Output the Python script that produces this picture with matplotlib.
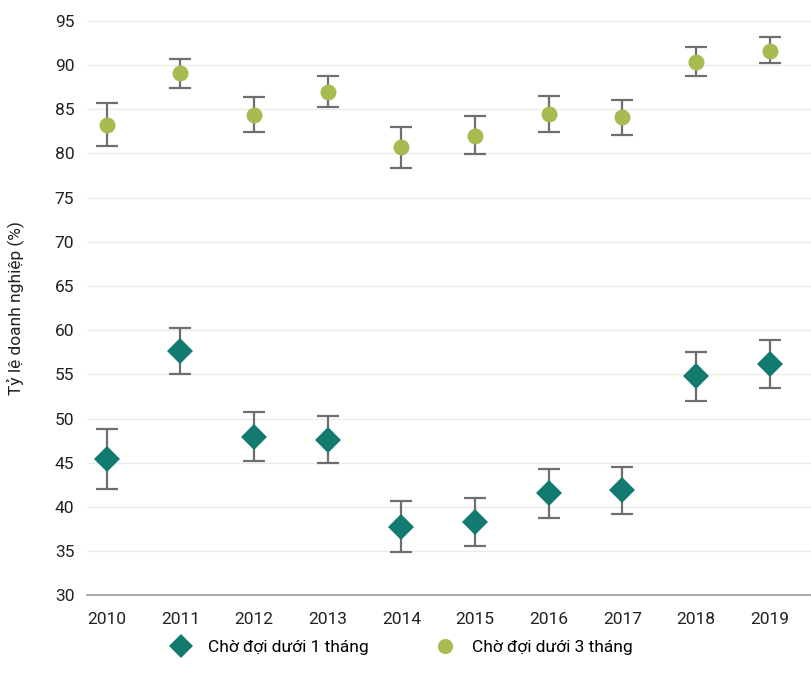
import matplotlib.pyplot as plt
import numpy as np

plt.rcParams['font.family'] = ['Roboto', 'DejaVu Sans']

years = ["2010", "2011", "2012", "2013", "2014", "2015", "2016", "2017", "2018", "2019"]

# Chờ đợi dưới 1 tháng
m1 = [45.4, 57.6, 47.9, 47.6, 37.8, 38.3, 41.6, 41.9, 54.8, 56.2]
m1_lo = [42.1, 55.0, 45.2, 45.0, 34.9, 35.6, 38.8, 39.2, 52.0, 53.5]
m1_hi = [48.8, 60.2, 50.7, 50.3, 40.7, 41.0, 44.3, 44.5, 57.5, 58.9]

# Chờ đợi dưới 3 tháng
m3 = [83.2, 89.1, 84.4, 87.0, 80.7, 82.0, 84.5, 84.1, 90.3, 91.6]
m3_lo = [80.8, 87.4, 82.4, 85.2, 78.3, 79.9, 82.4, 82.1, 88.7, 90.2]
m3_hi = [85.7, 90.7, 86.4, 88.8, 83.0, 84.2, 86.5, 86.0, 92.0, 93.2]

teal = "#127A6E"
green = "#A6BC50"
err_col = "#6E6E70"

fig = plt.figure(figsize=(8.11, 6.84), dpi=100)
ax = fig.add_axes([0.107, 0.1294, 0.893, 0.8402])

x = np.arange(len(years))
for vals, lo, hi, marker, color, ms, label in [
    (m1, m1_lo, m1_hi, "D", teal, 13, "Chờ đợi dưới 1 tháng"),
    (m3, m3_lo, m3_hi, "o", green, 11.5, "Chờ đợi dưới 3 tháng"),
]:
    vals = np.array(vals)
    yerr = [vals - np.array(lo), np.array(hi) - vals]
    ax.errorbar(x, vals, yerr=yerr, fmt="none", ecolor=err_col, elinewidth=1.6,
                capsize=8, capthick=1.6, zorder=2)
    ax.plot(x, vals, linestyle="none", marker=marker, color=color, markersize=ms,
            markeredgewidth=0, label=label, zorder=3)

ax.set_xlim(-0.27, 9.56)
ax.set_ylim(30, 95)
ax.set_yticks(np.arange(30, 96, 5))
ax.set_xticks(x)
ax.set_xticklabels(years)
ax.grid(axis="y", color="#EBEBEB", linewidth=1)
ax.set_axisbelow(True)
for s in ["top", "right", "left"]:
    ax.spines[s].set_visible(False)
ax.spines["bottom"].set_color("#9A9A9A")
ax.spines["bottom"].set_linewidth(1.2)
ax.tick_params(axis="y", length=0, labelsize=12.5, colors="#222222", pad=9)
ax.tick_params(axis="x", length=0, labelsize=12.5, colors="#222222", pad=12)
ax.set_ylabel("Tỷ lệ doanh nghiệp (%)", fontsize=12.5, color="#222222")
ax.yaxis.set_label_coords(-0.086, 0.5)

fig.legend(loc="lower center", bbox_to_anchor=(0.491, 0.02), ncol=2, frameon=False,
           fontsize=12.5, columnspacing=3.37, handletextpad=0.55, markerscale=0.95)

fig.savefig("out.png", dpi=100)
